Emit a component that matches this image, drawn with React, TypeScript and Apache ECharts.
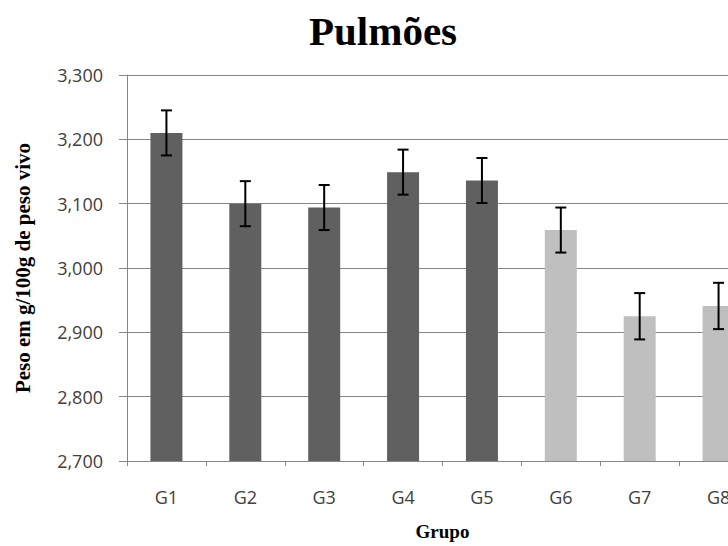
import React, { useEffect, useRef } from "react";
import * as echarts from "echarts";

const categories = ["G1", "G2", "G3", "G4", "G5", "G6", "G7", "G8"];
const means = [3210, 3100, 3094, 3149, 3136, 3059, 2925, 2941];
const errors = [35, 35, 35, 35, 35, 35, 36, 36];
const yTicks = { min: 2700, max: 3300, interval: 100 };

const DARK = "#606060";
const LIGHT = "#bfbfbf";

export default function App() {
  const ref = useRef<HTMLDivElement>(null);
  useEffect(() => {
    if (!ref.current) return;
    const chart = echarts.init(ref.current, undefined, { renderer: "svg" });
    const serif = "'Liberation Serif', 'Times New Roman', serif";
    const sans = "'Open Sans', 'Liberation Sans', sans-serif";
    chart.setOption({
      animation: false,
      backgroundColor: "#ffffff",
      title: {
        text: "Pulmões",
        left: 378,
        top: 5,
        textAlign: "center",
        textStyle: { fontFamily: serif, fontWeight: "bold", fontSize: 41, color: "#000" },
      },
      grid: {
        left: 127,
        top: 75,
        bottom: 85,
        right: 2,
        containLabel: false,
        outerBoundsMode: "none",
      },
      xAxis: {
        type: "category",
        data: categories,
        name: "Grupo",
        nameLocation: "middle",
        nameGap: 61,
        nameTextStyle: { fontFamily: serif, fontWeight: "bold", fontSize: 19, color: "#000" },
        axisLine: { lineStyle: { color: "#868686", width: 1 } },
        axisTick: { show: true, length: 5, lineStyle: { color: "#868686" } },
        axisLabel: { fontFamily: sans, fontSize: 18, color: "#404040", margin: 27 },
      },
      yAxis: {
        type: "value",
        min: yTicks.min,
        max: yTicks.max,
        interval: yTicks.interval,
        name: "Peso em g/100g de peso vivo",
        nameLocation: "middle",
        nameGap: 94,
        nameTextStyle: { fontFamily: serif, fontWeight: "bold", fontSize: 21, color: "#000" },
        axisLine: { show: true, lineStyle: { color: "#868686", width: 1 } },
        axisTick: { show: true, length: 8, lineStyle: { color: "#868686" } },
        axisLabel: {
          fontFamily: sans,
          fontSize: 18,
          color: "#404040",
          margin: 24,
          formatter: (v: number) => v.toLocaleString("en-US"),
        },
        splitLine: { show: true, lineStyle: { color: "#868686", width: 1 } },
      },
      series: [
        {
          type: "bar",
          barWidth: 32,
          data: means.map((v, i) => ({ value: v, itemStyle: { color: i < 5 ? DARK : LIGHT } })),
          z: 2,
        },
        {
          type: "custom",
          z: 5,
          data: means.map((v, i) => [i, v - errors[i], v + errors[i]]),
          renderItem: (params: any, api: any) => {
            const x = api.value(0);
            const lo = api.coord([x, api.value(1)]);
            const hi = api.coord([x, api.value(2)]);
            const half = 5.5;
            const style = { stroke: "#000", lineWidth: 2 };
            return {
              type: "group",
              children: [
                { type: "line", shape: { x1: lo[0], y1: lo[1], x2: hi[0], y2: hi[1] }, style },
                { type: "line", shape: { x1: hi[0] - half, y1: hi[1], x2: hi[0] + half, y2: hi[1] }, style },
                { type: "line", shape: { x1: lo[0] - half, y1: lo[1], x2: lo[0] + half, y2: lo[1] }, style },
              ],
            };
          },
        },
      ],
    });
    return () => chart.dispose();
  }, []);
  return (
    <div
      ref={ref}
      style={{ position: "fixed", left: 0, top: 0, width: 760, height: 546 }}
    />
  );
}
